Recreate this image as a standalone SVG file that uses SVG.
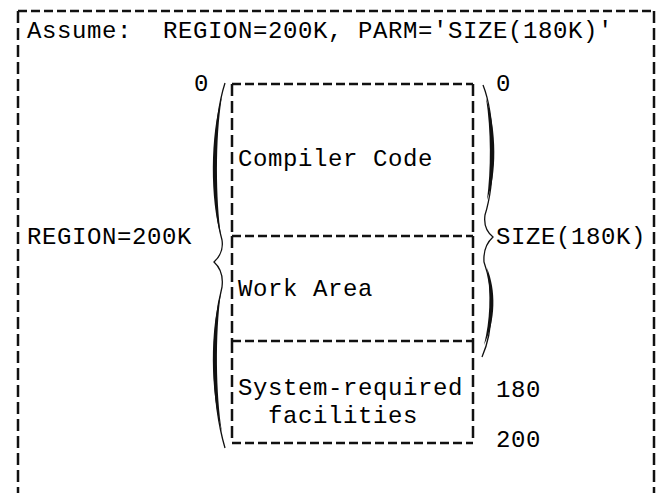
<svg xmlns="http://www.w3.org/2000/svg" width="659" height="493" viewBox="0 0 659 493">
<style>
text{font-family:"Liberation Mono","Courier New",monospace;font-size:24px;letter-spacing:0.6px;fill:#000}
.h{stroke:#111;stroke-width:2.5;stroke-dasharray:9 4;fill:none}
.v{stroke:#111;stroke-width:2.5;stroke-dasharray:12 5;fill:none}
.br{stroke:#111;stroke-width:1.3;fill:none}
.lens{fill:#111;stroke:none}
</style>
<rect width="659" height="493" fill="#fff"/>
<g id="frame">
<line class="h" x1="18" y1="11" x2="654" y2="11"/>
<line class="v" x1="18" y1="11" x2="18" y2="493"/>
<line class="v" x1="654" y1="11" x2="654" y2="493"/>
<text x="27" y="38">Assume:</text>
<text x="163" y="38">REGION=200K, PARM='SIZE(180K)'</text>
</g>
<g id="compiler-code">
<line class="h" x1="232" y1="84" x2="473" y2="84"/>
<line class="v" x1="232" y1="84" x2="232" y2="236"/>
<line class="v" x1="473" y1="84" x2="473" y2="236"/>
<text x="238" y="166">Compiler Code</text>
</g>
<g id="work-area">
<line class="h" x1="232" y1="236" x2="473" y2="236"/>
<line class="v" x1="232" y1="236" x2="232" y2="341"/>
<line class="v" x1="473" y1="236" x2="473" y2="341"/>
<text x="238" y="296">Work Area</text>
</g>
<g id="system-required">
<line class="h" x1="232" y1="341" x2="473" y2="341"/>
<line class="v" x1="232" y1="341" x2="232" y2="443"/>
<line class="v" x1="473" y1="341" x2="473" y2="443"/>
<line class="h" x1="232" y1="443" x2="473" y2="443"/>
<text x="238" y="395">System-required</text>
<text x="268" y="423">facilities</text>
</g>
<g id="region-brace">
<path class="br" d="M225,83 C213,120 211,200 222,240 Q224,253 214,262 Q224,271 222,287 C211,330 211,400 225,448"/>
<path class="lens" d="M222,96 C210,135 210,200 221,236 C216,200 215,140 222,96 Z"/>
<path class="lens" d="M221,292 C210,330 210,390 222,432 C216,395 215,335 221,292 Z"/>
<text x="194" y="91">0</text>
<text x="27" y="244">REGION=200K</text>
</g>
<g id="size-brace">
<path class="br" d="M483,85 C495,115 496,180 485,215 Q483,229 493,237 Q483,246 484,262 C494,290 494,330 482,357"/>
<path class="lens" d="M486,98 C497,130 497,175 487,200 C491,170 491,130 486,98 Z"/>
<path class="lens" d="M487,268 C496,290 496,320 484,345 C490,320 491,295 487,268 Z"/>
<text x="496" y="91">0</text>
<text x="496" y="244">SIZE(180K)</text>
<text x="496" y="397">180</text>
<text x="496" y="447">200</text>
</g>
</svg>
